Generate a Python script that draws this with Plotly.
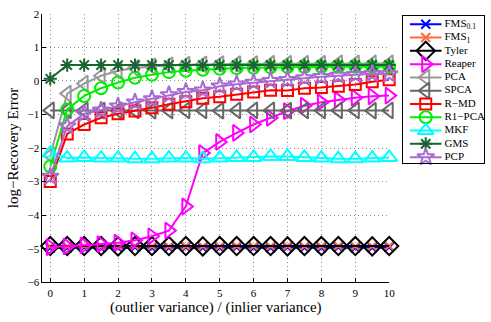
import plotly.graph_objects as go

# ratio of outlier variance to inlier variance
ratio = [0, 0.5, 1, 1.5, 2, 2.5, 3, 3.5, 4, 4.5, 5, 5.5, 6, 6.5, 7, 7.5, 8, 8.5, 9, 9.5, 10]

# log-recovery error for each method
fms_01 = [-4.97, -4.97, -4.96, -4.97, -4.97, -4.96, -4.97, -4.97, -4.96, -4.97, -4.97,
          -4.96, -4.97, -4.97, -4.96, -4.97, -4.97, -4.96, -4.97, -4.97, -4.96]
fms_1 = [-4.93, -4.93, -4.92, -4.93, -4.93, -4.92, -4.93, -4.93, -4.92, -4.93, -4.93,
         -4.92, -4.93, -4.93, -4.92, -4.93, -4.93, -4.92, -4.93, -4.93, -4.92]
tyler = [-4.92, -4.92, -4.92, -4.92, -4.93, -4.92, -4.92, -4.92, -4.92, -4.93, -4.92,
         -4.92, -4.92, -4.92, -4.93, -4.92, -4.92, -4.92, -4.92, -4.93, -4.92]
reaper = [-4.95, -4.93, -4.9, -4.86, -4.82, -4.75, -4.63, -4.46, -3.74, -2.15, -1.82,
          -1.55, -1.3, -1.1, -0.9, -0.74, -0.64, -0.57, -0.5, -0.46, -0.44]
pca = [-2.22, -0.38, -0.08, 0.15, 0.3, 0.38, 0.43, 0.46, 0.48, 0.49, 0.5,
       0.5, 0.5, 0.51, 0.51, 0.51, 0.51, 0.52, 0.52, 0.52, 0.52]
spca = [-0.88, -0.88, -0.88, -0.89, -0.88, -0.88, -0.89, -0.88, -0.88, -0.88, -0.89,
        -0.88, -0.88, -0.88, -0.89, -0.88, -0.88, -0.88, -0.88, -0.89, -0.88]
r_md = [-3.0, -1.58, -1.3, -1.1, -0.98, -0.9, -0.8, -0.7, -0.62, -0.52, -0.47,
        -0.4, -0.33, -0.28, -0.29, -0.22, -0.2, -0.16, -0.11, -0.03, 0.03]
r1_pca = [-2.55, -0.85, -0.45, -0.22, -0.05, 0.09, 0.18, 0.26, 0.3, 0.33, 0.36,
          0.38, 0.39, 0.4, 0.41, 0.41, 0.42, 0.42, 0.42, 0.42, 0.42]
mkf = [-2.15, -2.3, -2.28, -2.3, -2.3, -2.32, -2.32, -2.3, -2.3, -2.32, -2.3,
       -2.28, -2.28, -2.25, -2.25, -2.28, -2.3, -2.32, -2.32, -2.3, -2.28]
gms = [0.06, 0.47, 0.47, 0.47, 0.47, 0.47, 0.47, 0.47, 0.47, 0.47, 0.47,
       0.47, 0.47, 0.47, 0.47, 0.47, 0.47, 0.47, 0.47, 0.47, 0.47]
pcp = [-2.85, -1.35, -0.98, -0.88, -0.76, -0.64, -0.54, -0.42, -0.33, -0.28, -0.16,
       -0.1, -0.05, 0.0, 0.03, 0.08, 0.12, 0.16, 0.18, 0.21, 0.2]

x_ticks = [0, 1, 2, 3, 4, 5, 6, 7, 8, 9, 10]
y_ticks = [-6, -5, -4, -3, -2, -1, 0, 1, 2]

series = [
    ("FMS<sub>0.1</sub>", fms_01, "#0000ff", "x-thin-open", 9),
    ("FMS<sub>1</sub>", fms_1, "#ff6a3d", "x-thin-open", 9),
    ("Tyler", tyler, "#000000", "diamond-open", 14),
    ("Reaper", reaper, "#ff00ff", "triangle-right-open", 14),
    ("PCA", pca, "#999999", "triangle-left-open", 14),
    ("SPCA", spca, "#666666", "triangle-left-open", 14),
    ("R\u2212MD", r_md, "#ff0000", "square-open", 11),
    ("R1\u2212PCA", r1_pca, "#00ee00", "circle-open", 12),
    ("MKF", mkf, "#00ffff", "triangle-up-open", 14),
    ("GMS", gms, "#1a6432", "asterisk-open", 11),
    ("PCP", pcp, "#a86cd0", "star-open", 13),
]

W, H = 491, 322
FONT = "Liberation Serif"
GRID = dict(showgrid=True, gridcolor="#8c8c8c", griddash="1px,3px", gridwidth=1)

fig = go.Figure()

for name, ys, color, symbol, size in series:
    fig.add_trace(go.Scatter(
        x=ratio, y=ys, mode="lines+markers", name=name, showlegend=False,
        line=dict(color=color, width=2),
        marker=dict(symbol=symbol, size=size, color=color, line=dict(color=color, width=2)),
        cliponaxis=False, xaxis="x", yaxis="y",
    ))

# boxed key drawn on its own small axes, one row per method
row_gap = 13.8
for i, (name, ys, color, symbol, size) in enumerate(series):
    yrow = 9 + i * row_gap
    fig.add_trace(go.Scatter(
        x=[7, 39], y=[yrow, yrow], mode="lines", showlegend=False, hoverinfo="skip",
        line=dict(color=color, width=2), xaxis="x2", yaxis="y2", cliponaxis=False,
    ))
    fig.add_trace(go.Scatter(
        x=[23], y=[yrow], mode="markers", showlegend=False, hoverinfo="skip",
        marker=dict(symbol=symbol, size=size, color=color, line=dict(color=color, width=2)),
        xaxis="x2", yaxis="y2", cliponaxis=False,
    ))
    fig.add_trace(go.Scatter(
        x=[42], y=[yrow], mode="text", text=[name], textposition="middle right",
        textfont=dict(family=FONT, size=11, color="black"), showlegend=False,
        hoverinfo="skip", xaxis="x2", yaxis="y2", cliponaxis=False,
    ))

fig.update_layout(
    width=W, height=H,
    margin=dict(l=0, r=0, t=0, b=0),
    paper_bgcolor="white", plot_bgcolor="white",
    font=dict(family=FONT, size=11, color="black"),
    xaxis=dict(
        domain=[43 / W, 394 / W], range=[-0.23, 10], anchor="y",
        tickvals=x_ticks, ticks="inside", ticklen=4, tickcolor="black",
        showline=True, linecolor="black", linewidth=1, zeroline=False,
        tickfont=dict(family=FONT, size=11),
        title=dict(text="(outlier variance) / (inlier variance)",
                   font=dict(family=FONT, size=15), standoff=3),
        **GRID,
    ),
    yaxis=dict(
        domain=[1 - 287 / H, 1 - 8 / H], range=[-6, 2], anchor="x",
        tickvals=y_ticks, ticks="inside", ticklen=4, tickcolor="black",
        showline=True, linecolor="black", linewidth=1, zeroline=False,
        tickfont=dict(family=FONT, size=11),
        title=dict(text="log\u2212Recovery Error", font=dict(family=FONT, size=15), standoff=5),
        **GRID,
    ),
    xaxis2=dict(
        domain=[408 / W, 490 / W], range=[0, 82], anchor="y2",
        showline=True, mirror=True, linecolor="black", linewidth=1,
        showgrid=False, zeroline=False, showticklabels=False, ticks="",
    ),
    yaxis2=dict(
        domain=[1 - 163 / H, 1 - 10 / H], range=[153, 0], anchor="x2",
        showline=True, mirror=True, linecolor="black", linewidth=1,
        showgrid=False, zeroline=False, showticklabels=False, ticks="",
    ),
)

fig.write_html("out.html")
